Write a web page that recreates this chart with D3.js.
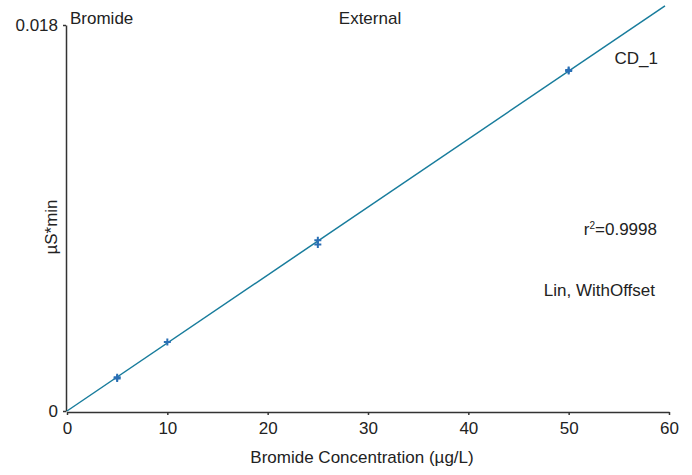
<!DOCTYPE html>
<html>
<head>
<meta charset="utf-8">
<script src="https://cdn.jsdelivr.net/npm/d3@7"></script>
<style>
  body { margin: 0; background: #fff; }
  text { font-family: "Liberation Sans", Arial, sans-serif; font-size: 17px; fill: #222; }
</style>
</head>
<body>
<div id="container"></div>
<script>
const width = 692;
const height = 475;
const marginLeft = 67;
const marginRight = 23;
const marginTop = 25;
const marginBottom = 64;

// calibration standards (µg/L) and peak areas (µS*min)
const concentrations = [5, 5, 10, 25, 25, 50, 50];
const areas = [0.00152, 0.00157, 0.00322, 0.00796, 0.00776, 0.01586, 0.01590];

// fitted line, linear with offset
const fitSlope = 0.000317;
const fitOffset = 0.0;
const fitRange = [0, 59.6];

const xTicks = [0, 10, 20, 30, 40, 50, 60];
const yTicks = [0, 0.018];

const svg = d3.select("#container")
  .append("svg")
  .attr("width", width)
  .attr("height", height);

const x = d3.scaleLinear()
  .domain([0, 60])
  .range([marginLeft, width - marginRight]);

const y = d3.scaleLinear()
  .domain([0, 0.018])
  .range([height - marginBottom, marginTop]);

// x axis
const xAxis = svg.append("g")
  .attr("transform", `translate(0,${height - marginBottom + 1})`)
  .call(d3.axisBottom(x).tickValues(xTicks).tickFormat(d3.format("d")).tickSize(3).tickSizeOuter(0));
xAxis.select(".domain").attr("stroke", "#333").attr("stroke-width", 1.5);
xAxis.selectAll(".tick line").attr("stroke", "#333").attr("stroke-width", 1.5);
xAxis.selectAll(".tick text")
  .attr("y", 10)
  .attr("font-size", 17.5)
  .attr("font-family", "Liberation Sans, Arial, sans-serif")
  .attr("fill", "#222");

// y axis
const yAxis = svg.append("g")
  .attr("transform", `translate(${marginLeft - 1},0)`)
  .call(d3.axisLeft(y).tickValues(yTicks).tickFormat(d => d === 0 ? "0" : d3.format(".3f")(d)).tickSize(3).tickSizeOuter(0));
yAxis.select(".domain").attr("stroke", "#333").attr("stroke-width", 1.5);
yAxis.selectAll(".tick line").attr("stroke", "#333").attr("stroke-width", 1.5);
yAxis.selectAll(".tick text")
  .attr("x", -8)
  .attr("font-size", 18)
  .attr("font-family", "Liberation Sans, Arial, sans-serif")
  .attr("fill", "#222");

// axis titles
svg.append("text")
  .attr("x", 362)
  .attr("y", 463)
  .attr("text-anchor", "middle")
  .text("Bromide Concentration (µg/L)");

svg.append("text")
  .attr("transform", `translate(57,227) rotate(-90)`)
  .attr("text-anchor", "middle")
  .text("µS*min");

// calibration line
const line = d3.line()
  .x(d => x(d))
  .y(d => y(fitOffset + fitSlope * d));

svg.append("path")
  .datum(fitRange)
  .attr("fill", "none")
  .attr("stroke", "#187c9c")
  .attr("stroke-width", 1.5)
  .attr("d", line);

// standards
svg.append("g")
  .selectAll("path")
  .data(concentrations)
  .join("path")
  .attr("transform", (d, i) => `translate(${x(d)},${y(areas[i])})`)
  .attr("d", d3.symbol(d3.symbolPlus, 18))
  .attr("fill", "none")
  .attr("stroke", "#2a6fb5")
  .attr("stroke-width", 2);

// annotations
svg.append("text").attr("x", 70).attr("y", 24).text("Bromide");
svg.append("text").attr("x", 370).attr("y", 24).attr("text-anchor", "middle").text("External");
svg.append("text").attr("x", 658).attr("y", 64).attr("text-anchor", "end").text("CD_1");

const r2 = svg.append("text").attr("x", 657).attr("y", 235).attr("text-anchor", "end");
r2.append("tspan").text("r");
r2.append("tspan").attr("dy", -6).attr("font-size", 10).text("2");
r2.append("tspan").attr("dy", 6).text("=0.9998");

svg.append("text").attr("x", 655).attr("y", 296).attr("text-anchor", "end").text("Lin, WithOffset");
</script>
</body>
</html>
